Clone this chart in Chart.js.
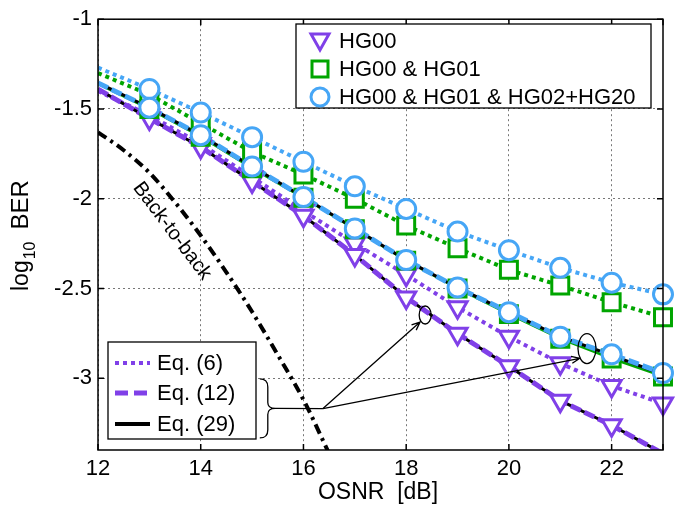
<!DOCTYPE html>
<html lang="en">
<head>
<meta charset="UTF-8">
<title>log10 BER vs OSNR</title>
<script src="https://cdn.jsdelivr.net/npm/chart.js@4"></script>
<style>
  html, body { margin: 0; padding: 0; background: #fff; }
  canvas { display: block; }
</style>
</head>
<body>
<canvas id="berChart" width="691" height="510"></canvas>
<script>
// x values
const osnrLine = [12, 13, 14, 15, 16, 17, 18, 19, 20, 21, 22, 23];
const osnrMarks = [13, 14, 15, 16, 17, 18, 19, 20, 21, 22, 23];
const b2bOsnr = [12, 12.5, 13, 13.5, 14, 14.5, 15, 15.5, 16, 16.5];

// back-to-back curve
const b2bBer = [-1.63, -1.73, -1.855, -2.02, -2.205, -2.41, -2.63, -2.87, -3.12, -3.42];

// theory curves: Eq. (6) dotted, Eq. (12) dashed, Eq. (29) solid black
const hg00Eq6 = [-1.40, -1.535, -1.695, -1.88, -2.068, -2.249, -2.424, -2.605, -2.769, -2.917, -3.043, -3.141];
const hg00Eq12 = [-1.39, -1.553, -1.712, -1.904, -2.095, -2.314, -2.55, -2.752, -2.933, -3.125, -3.262, -3.42];
const hg00Eq29 = [-1.39, -1.553, -1.712, -1.904, -2.095, -2.314, -2.55, -2.752, -2.933, -3.125, -3.262, -3.42];
const hg01Eq6 = [-1.30, -1.42, -1.58, -1.74, -1.865, -2.00, -2.15, -2.276, -2.396, -2.484, -2.577, -2.66];
const hg01Eq12 = [-1.36, -1.50, -1.655, -1.83, -1.995, -2.17, -2.345, -2.50, -2.643, -2.78, -2.89, -2.99];
const hg02Eq6 = [-1.27, -1.389, -1.52, -1.657, -1.794, -1.931, -2.057, -2.183, -2.287, -2.385, -2.468, -2.533];
const hg02Eq12 = [-1.355, -1.493, -1.646, -1.821, -1.991, -2.166, -2.342, -2.495, -2.632, -2.769, -2.867, -2.971];
const hg02Eq29 = [-1.355, -1.493, -1.646, -1.821, -1.991, -2.166, -2.342, -2.495, -2.632, -2.769, -2.872, -2.98];

// markers (13..23 dB)
const hg00MarkA = [-1.535, -1.695, -1.88, -2.068, -2.249, -2.424, -2.605, -2.769, -2.917, -3.043, -3.141];
const hg00MarkB = [-1.553, -1.712, -1.904, -2.095, -2.314, -2.55, -2.752, -2.933, -3.125, -3.262];
const hg01MarkA = [-1.43, -1.58, -1.74, -1.865, -2.00, -2.15, -2.276, -2.396, -2.484, -2.577, -2.66];
const hg01MarkB = [-1.50, -1.655, -1.83, -1.995, -2.17, -2.345, -2.50, -2.643, -2.78, -2.89, -2.99];
const hg02MarkA = [-1.389, -1.52, -1.657, -1.794, -1.931, -2.057, -2.183, -2.287, -2.385, -2.468, -2.533];
const hg02MarkB = [-1.493, -1.646, -1.821, -1.991, -2.166, -2.342, -2.495, -2.632, -2.769, -2.867, -2.971];

// tick labels
const xTicks = [12, 14, 16, 18, 20, 22];
const yTicks = [-1, -1.5, -2, -2.5, -3];

const PURPLE = '#8040e8';
const GREEN = '#00a500';
const BLUE = '#46a6f6';
const FONT = '"Liberation Sans", Arial, sans-serif';

function pts(xs, ys) {
  return ys.map((y, i) => ({ x: xs[i], y: y }));
}

function curve(ys, xs, color, width, dash) {
  return {
    data: pts(xs, ys),
    borderColor: color,
    borderWidth: width,
    borderDash: dash,
    borderCapStyle: 'butt',
    pointRadius: 0,
    fill: false,
    tension: 0
  };
}

function marks(ys, style, color, radius) {
  return {
    data: pts(osnrMarks, ys),
    showLine: false,
    pointStyle: style,
    pointRotation: style === 'triangle' ? 180 : 0,
    pointRadius: radius,
    pointHoverRadius: radius,
    pointBorderWidth: 3,
    pointBorderColor: color,
    pointBackgroundColor: '#fff',
    clip: false
  };
}

const b2bCurve = curve(b2bBer, b2bOsnr, '#000', 4, [10, 5, 3, 5]);
b2bCurve.cubicInterpolationMode = 'monotone';

// bottom to top
const layers = [
  b2bCurve,
  curve(hg02Eq6, osnrLine, BLUE, 4, [4, 4]),
  curve(hg01Eq6, osnrLine, GREEN, 4, [4, 4]),
  curve(hg00Eq6, osnrLine, PURPLE, 4, [4, 4]),
  curve(hg01Eq12, osnrLine, GREEN, 2.5, []),
  curve(hg02Eq29, osnrLine, '#000', 3, []),
  curve(hg02Eq12, osnrLine, BLUE, 5, [11, 4]),
  curve(hg00Eq29, osnrLine, '#000', 3, []),
  curve(hg00Eq12, osnrLine, PURPLE, 5, [11, 4]),
  marks(hg00MarkA, 'triangle', PURPLE, 11),
  marks(hg00MarkB, 'triangle', PURPLE, 11),
  marks(hg01MarkA, 'rect', GREEN, 12),
  marks(hg01MarkB, 'rect', GREEN, 12),
  marks(hg02MarkA, 'circle', BLUE, 9.5),
  marks(hg02MarkB, 'circle', BLUE, 9.5)
];
layers.forEach((d, i) => { d.order = layers.length - i; });

function ellipse(ctx, cx, cy, rx, ry) {
  ctx.beginPath();
  ctx.ellipse(cx, cy, rx, ry, 0, 0, Math.PI * 2);
  ctx.stroke();
}

function arrow(ctx, x0, y0, x1, y1) {
  const a = Math.atan2(y1 - y0, x1 - x0);
  ctx.beginPath();
  ctx.moveTo(x0, y0);
  ctx.lineTo(x1, y1);
  ctx.moveTo(x1 - 9 * Math.cos(a - 0.4), y1 - 9 * Math.sin(a - 0.4));
  ctx.lineTo(x1, y1);
  ctx.lineTo(x1 - 9 * Math.cos(a + 0.4), y1 - 9 * Math.sin(a + 0.4));
  ctx.stroke();
}

function legendMark(ctx, style, color, x, y) {
  ctx.save();
  ctx.strokeStyle = color;
  ctx.lineWidth = 3;
  ctx.beginPath();
  if (style === 'triangle') {
    ctx.moveTo(x - 9, y - 7);
    ctx.lineTo(x + 9, y - 7);
    ctx.lineTo(x, y + 9);
    ctx.closePath();
  } else if (style === 'rect') {
    ctx.rect(x - 8, y - 8, 16, 16);
  } else {
    ctx.arc(x, y, 9, 0, Math.PI * 2);
  }
  ctx.stroke();
  ctx.restore();
}

const decorations = {
  id: 'decorations',
  afterDraw(chart) {
    const { ctx, chartArea: ca, scales } = chart;
    const sx = scales.x, sy = scales.y;
    const X = v => sx.getPixelForValue(v);
    const Y = v => sy.getPixelForValue(v);

    ctx.save();
    // axes box and inward ticks
    ctx.strokeStyle = '#000';
    ctx.lineWidth = 1.5;
    ctx.strokeRect(ca.left, ca.top, ca.right - ca.left, ca.bottom - ca.top);
    ctx.beginPath();
    xTicks.concat([23]).forEach(v => {
      ctx.moveTo(X(v), ca.bottom); ctx.lineTo(X(v), ca.bottom - 6);
      ctx.moveTo(X(v), ca.top); ctx.lineTo(X(v), ca.top + 6);
    });
    yTicks.forEach(v => {
      ctx.moveTo(ca.left, Y(v)); ctx.lineTo(ca.left + 6, Y(v));
      ctx.moveTo(ca.right, Y(v)); ctx.lineTo(ca.right - 6, Y(v));
    });
    ctx.stroke();

    // Back-to-back label
    ctx.save();
    ctx.translate(172, 231);
    ctx.rotate(53 * Math.PI / 180);
    ctx.fillStyle = '#000';
    ctx.font = '20px ' + FONT;
    ctx.textAlign = 'center';
    ctx.textBaseline = 'middle';
    ctx.fillText('Back-to-back', 0, 0);
    ctx.restore();

    // ellipses and arrows
    ctx.lineWidth = 1.3;
    ctx.strokeStyle = '#000';
    ellipse(ctx, X(18.37), Y(-2.648), 6, 9);
    ellipse(ctx, X(21.52), Y(-2.835), 9, 15);
    const tailX = X(16.38), tailY = Y(-3.169);
    arrow(ctx, tailX, tailY, X(18.27), Y(-2.687));
    arrow(ctx, tailX, tailY, X(21.38), Y(-2.889));

    // brace
    const bx = X(15.15), bt = Y(-3.004), bb = Y(-3.333), tip = X(15.45);
    const bm = (bt + bb) / 2;
    ctx.beginPath();
    ctx.moveTo(bx, bt);
    ctx.quadraticCurveTo(bx + 8, bt, bx + 8, bt + 8);
    ctx.lineTo(bx + 8, bm - 6);
    ctx.quadraticCurveTo(bx + 8, bm, tip, bm);
    ctx.quadraticCurveTo(bx + 8, bm, bx + 8, bm + 6);
    ctx.lineTo(bx + 8, bb - 8);
    ctx.quadraticCurveTo(bx + 8, bb, bx, bb);
    ctx.moveTo(tip, bm);
    ctx.lineTo(tailX, tailY);
    ctx.stroke();

    // top-right legend
    ctx.fillStyle = '#fff';
    ctx.fillRect(296, 24, 355, 84);
    ctx.lineWidth = 1.3;
    ctx.strokeRect(296, 24, 355, 84);
    const rows = [
      ['triangle', PURPLE, 'HG00', 41],
      ['rect', GREEN, 'HG00 & HG01', 69],
      ['circle', BLUE, 'HG00 & HG01 & HG02+HG20', 97]
    ];
    ctx.font = '22px ' + FONT;
    ctx.textBaseline = 'middle';
    rows.forEach(r => {
      legendMark(ctx, r[0], r[1], 320, r[3]);
      ctx.fillStyle = '#000';
      ctx.fillText(r[2], 339, r[3] + 1);
    });

    // bottom-left legend
    ctx.fillStyle = '#fff';
    ctx.fillRect(108, 342, 148, 97);
    ctx.strokeRect(108, 342, 148, 97);
    const eqRows = [
      [PURPLE, 4, [4, 4], 'Eq. (6)', 363],
      [PURPLE, 5, [13, 6], 'Eq. (12)', 393],
      ['#000', 4, [], 'Eq. (29)', 424]
    ];
    eqRows.forEach(r => {
      ctx.save();
      ctx.strokeStyle = r[0];
      ctx.lineWidth = r[1];
      ctx.setLineDash(r[2]);
      ctx.beginPath();
      ctx.moveTo(115, r[4]);
      ctx.lineTo(150, r[4]);
      ctx.stroke();
      ctx.restore();
      ctx.fillStyle = '#000';
      ctx.fillText(r[3], 157, r[4] + 1);
    });

    // axis titles
    ctx.fillStyle = '#000';
    ctx.font = '23px ' + FONT;
    ctx.textAlign = 'center';
    ctx.textBaseline = 'alphabetic';
    ctx.fillText('OSNR  [dB]', 378, 499);

    ctx.save();
    ctx.translate(28, 291);
    ctx.rotate(-Math.PI / 2);
    ctx.textAlign = 'left';
    ctx.font = '23px ' + FONT;
    ctx.fillText('log', 0, 0);
    let w = ctx.measureText('log').width;
    ctx.font = '16px ' + FONT;
    ctx.fillText('10', w + 1, 7);
    w += ctx.measureText('10').width + 1;
    ctx.font = '24px ' + FONT;
    ctx.fillText('BER', w + 12, 0);
    ctx.restore();

    ctx.restore();
  }
};

const chart = new Chart(document.getElementById('berChart'), {
  type: 'line',
  data: { datasets: layers },
  options: {
    responsive: false,
    animation: false,
    devicePixelRatio: 1,
    layout: { padding: { top: 12, right: 28, left: 0, bottom: 0 } },
    plugins: {
      legend: { display: false },
      tooltip: { enabled: false }
    },
    scales: {
      x: {
        type: 'linear',
        min: 12,
        max: 23,
        afterFit: s => { s.height = 60; },
        ticks: {
          stepSize: 2,
          includeBounds: false,
          color: '#000',
          font: { family: FONT, size: 22 },
          padding: 6,
          maxRotation: 0
        },
        grid: { color: '#777', lineWidth: 1, drawTicks: false },
        border: { display: false, dash: [2, 3] }
      },
      y: {
        type: 'linear',
        min: -3.4,
        max: -1,
        afterFit: s => { s.width = 98; },
        ticks: {
          stepSize: 0.5,
          includeBounds: false,
          color: '#000',
          font: { family: FONT, size: 22 },
          padding: 6,
          callback: v => String(Math.round(v * 10) / 10)
        },
        grid: { color: '#777', lineWidth: 1, drawTicks: false },
        border: { display: false, dash: [2, 3] }
      }
    }
  },
  plugins: [decorations]
});
</script>
</body>
</html>
